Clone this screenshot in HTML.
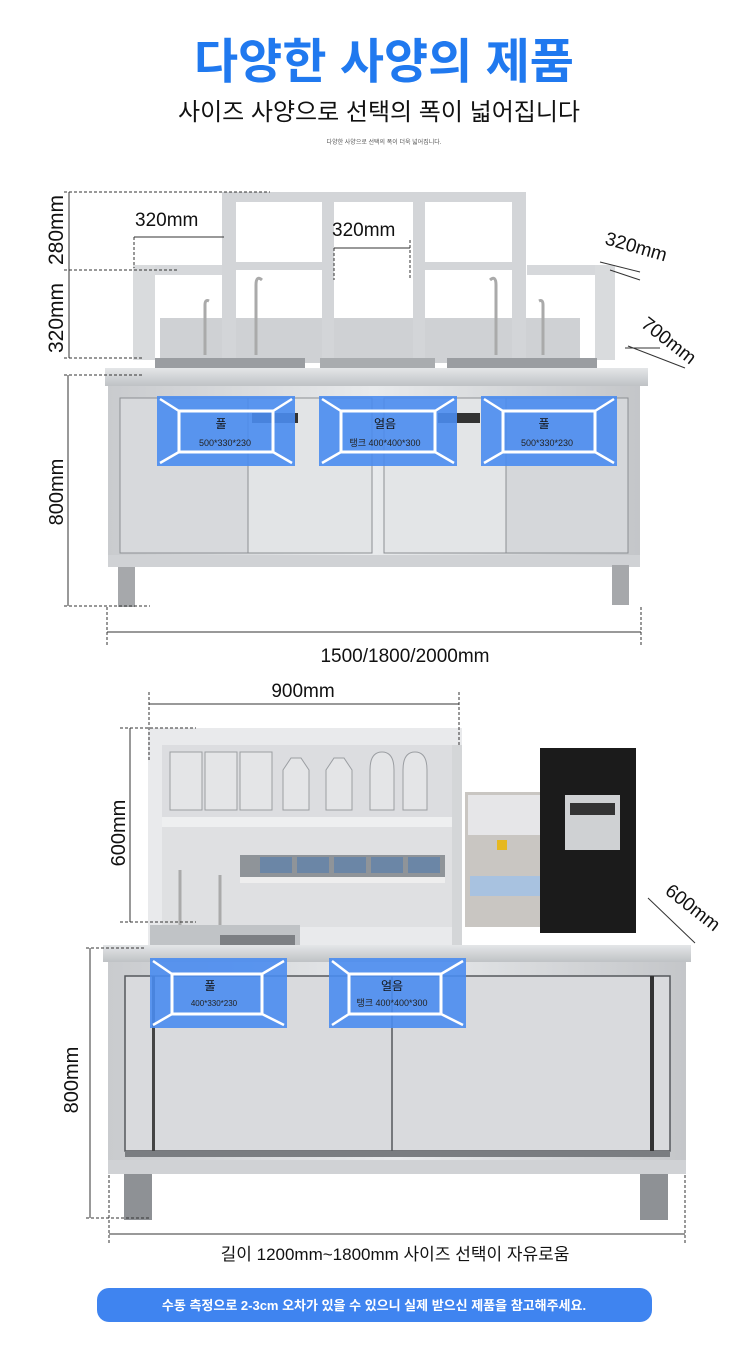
<!DOCTYPE html>
<html><head><meta charset="utf-8"><style>
html,body{margin:0;padding:0;background:#fff;}
svg{display:block;}
text{font-family:"Liberation Sans","Noto Sans CJK KR",sans-serif;}
</style></head><body>
<svg width="750" height="1354" viewBox="0 0 750 1354" xmlns="http://www.w3.org/2000/svg">
<defs>
<linearGradient id="steel" x1="0" x2="1" y1="0" y2="0">
<stop offset="0" stop-color="#c9cbce"/><stop offset="0.5" stop-color="#e8eaec"/><stop offset="1" stop-color="#c4c6c9"/>
</linearGradient>
<linearGradient id="top" x1="0" x2="0" y1="0" y2="1">
<stop offset="0" stop-color="#e4e6e8"/><stop offset="1" stop-color="#bfc2c5"/>
</linearGradient>
</defs>
<text x="384" y="78" font-size="48" font-weight="bold" fill="#2079ef" text-anchor="middle">다양한 사양의 제품</text>
<text x="379" y="120" font-size="24" fill="#111" text-anchor="middle">사이즈 사양으로 선택의 폭이 넓어집니다</text>
<text x="384" y="144" font-size="6" fill="#555" text-anchor="middle">다양한 사양으로 선택의 폭이 더욱 넓어집니다.</text>

<g>
<rect x="160" y="318" width="420" height="45" fill="#cfd1d4"/>
<rect x="133" y="265" width="90" height="10" fill="#d6d8db"/>
<rect x="133" y="265" width="22" height="95" fill="#d9dbdd"/>
<rect x="527" y="265" width="88" height="10" fill="#d6d8db"/>
<rect x="595" y="265" width="20" height="95" fill="#d9dbdd"/>
<rect x="222" y="192" width="304" height="10" fill="#d3d5d8"/>
<rect x="222" y="192" width="14" height="168" fill="#d3d5d8"/>
<rect x="322" y="192" width="12" height="168" fill="#d3d5d8"/>
<rect x="413" y="192" width="12" height="168" fill="#d3d5d8"/>
<rect x="512" y="192" width="14" height="168" fill="#d3d5d8"/>
<rect x="236" y="262" width="86" height="8" fill="#d3d5d8"/>
<rect x="425" y="262" width="87" height="8" fill="#d3d5d8"/>
<path d="M205 355 V305 q0 -6 4 -4" stroke="#aaa" stroke-width="3" fill="none"/>
<path d="M256 355 V285 q0 -10 6 -5" stroke="#aaa" stroke-width="3" fill="none"/>
<path d="M496 355 V285 q0 -10 -6 -5" stroke="#aaa" stroke-width="3" fill="none"/>
<path d="M543 355 V305 q0 -6 -4 -4" stroke="#aaa" stroke-width="3" fill="none"/>
<rect x="155" y="358" width="150" height="12" fill="#9a9da1"/>
<rect x="320" y="358" width="115" height="10" fill="#a9acaf"/>
<rect x="447" y="358" width="150" height="12" fill="#9a9da1"/>
<rect x="105" y="368" width="543" height="18" fill="url(#top)"/>
<rect x="108" y="386" width="532" height="174" fill="url(#steel)"/>
<rect x="120" y="398" width="128" height="155" fill="#d7d9dc" stroke="#8c8f93" stroke-width="1"/>
<rect x="248" y="398" width="124" height="155" fill="#e2e4e6" stroke="#8c8f93" stroke-width="1"/>
<rect x="384" y="398" width="122" height="155" fill="#e3e5e7" stroke="#8c8f93" stroke-width="1"/>
<rect x="506" y="398" width="122" height="155" fill="#d5d7da" stroke="#8c8f93" stroke-width="1"/>
<rect x="252" y="413" width="46" height="10" fill="#333"/>
<rect x="438" y="413" width="42" height="10" fill="#333"/>
<rect x="108" y="555" width="532" height="12" fill="#d0d2d5"/>
<rect x="118" y="567" width="17" height="40" fill="#a6a8ab"/>
<rect x="612" y="565" width="17" height="40" fill="#a6a8ab"/>
</g>
<g stroke="#333" stroke-width="1" fill="none">
<line x1="69" y1="192" x2="69" y2="358"/>
<line x1="68" y1="375" x2="68" y2="606"/>
<line x1="64" y1="192" x2="270" y2="192" stroke-dasharray="3,2"/>
<line x1="64" y1="270" x2="178" y2="270" stroke-dasharray="3,2"/>
<line x1="64" y1="358" x2="142" y2="358" stroke-dasharray="3,2"/>
<line x1="64" y1="375" x2="142" y2="375" stroke-dasharray="3,2"/>
<line x1="64" y1="606" x2="150" y2="606" stroke-dasharray="3,2"/>
<line x1="134" y1="237" x2="224" y2="237"/>
<line x1="134" y1="237" x2="134" y2="268" stroke-dasharray="3,2"/>
<line x1="334" y1="248" x2="410" y2="248"/>
<line x1="334" y1="248" x2="334" y2="280" stroke-dasharray="3,2"/>
<line x1="410" y1="240" x2="410" y2="280" stroke-dasharray="3,2"/>
<line x1="600" y1="262" x2="640" y2="272"/>
<line x1="610" y1="270" x2="640" y2="280"/>
<line x1="628" y1="346" x2="685" y2="368"/>
<line x1="625" y1="348" x2="660" y2="348"/>
<line x1="107" y1="607" x2="107" y2="645" stroke-dasharray="3,2"/>
<line x1="641" y1="607" x2="641" y2="645" stroke-dasharray="3,2"/>
<line x1="107" y1="632" x2="641" y2="632"/>
</g>
<g font-size="19" fill="#111">
<text x="135" y="226">320mm</text>
<text x="332" y="236">320mm</text>
<text transform="translate(604,244) rotate(16)">320mm</text>
<text transform="translate(640,326) rotate(38)">700mm</text>
<text transform="translate(63,230) rotate(-90)" text-anchor="middle" font-size="21">280mm</text>
<text transform="translate(63,318) rotate(-90)" text-anchor="middle" font-size="21">320mm</text>
<text transform="translate(63,492) rotate(-90)" text-anchor="middle" font-size="20">800mm</text>
<text x="405" y="662" text-anchor="middle">1500/1800/2000mm</text>
</g>
<g>
<g transform="translate(157,396)">
<rect width="138" height="70" fill="#4a8cf0" fill-opacity="0.9"/>
<rect x="22" y="15" width="94" height="41" fill="none" stroke="#fff" stroke-width="3"/>
<g stroke="#fff" stroke-width="2.5"><line x1="3" y1="3" x2="22" y2="15"/><line x1="135" y1="3" x2="116" y2="15"/><line x1="3" y1="67" x2="22" y2="56"/><line x1="135" y1="67" x2="116" y2="56"/></g>
<text x="64" y="32" font-size="12" text-anchor="middle" fill="#111">풀</text>
<text x="68" y="50" font-size="9" text-anchor="middle" fill="#222">500*330*230</text>
</g>
<g transform="translate(319,396)">
<rect width="138" height="70" fill="#4a8cf0" fill-opacity="0.9"/>
<rect x="22" y="15" width="94" height="41" fill="none" stroke="#fff" stroke-width="3"/>
<g stroke="#fff" stroke-width="2.5"><line x1="3" y1="3" x2="22" y2="15"/><line x1="135" y1="3" x2="116" y2="15"/><line x1="3" y1="67" x2="22" y2="56"/><line x1="135" y1="67" x2="116" y2="56"/></g>
<text x="66" y="32" font-size="12" text-anchor="middle" fill="#111">얼음</text>
<text x="66" y="50" font-size="9" text-anchor="middle" fill="#222">탱크 400*400*300</text>
</g>
<g transform="translate(481,396)">
<rect width="136" height="70" fill="#4a8cf0" fill-opacity="0.9"/>
<rect x="22" y="15" width="92" height="41" fill="none" stroke="#fff" stroke-width="3"/>
<g stroke="#fff" stroke-width="2.5"><line x1="3" y1="3" x2="22" y2="15"/><line x1="133" y1="3" x2="114" y2="15"/><line x1="3" y1="67" x2="22" y2="56"/><line x1="133" y1="67" x2="114" y2="56"/></g>
<text x="63" y="32" font-size="12" text-anchor="middle" fill="#111">풀</text>
<text x="66" y="50" font-size="9" text-anchor="middle" fill="#222">500*330*230</text>
</g>
</g>

<g>
<rect x="148" y="728" width="314" height="220" fill="#e9eaec"/>
<rect x="162" y="745" width="290" height="72" fill="#dcdde0"/>
<rect x="162" y="817" width="290" height="10" fill="#eeeff0"/>
<rect x="162" y="827" width="290" height="100" fill="#dfe0e2"/>
<rect x="452" y="745" width="10" height="200" fill="#d4d6d8"/>
<g fill="#e4e5e7" stroke="#9b9ea2" stroke-width="1">
<rect x="170" y="752" width="32" height="58"/><rect x="205" y="752" width="32" height="58"/><rect x="240" y="752" width="32" height="58"/>
<path d="M283 810 V770 l8 -12 h10 l8 12 V810 Z"/><path d="M326 810 V770 l8 -12 h10 l8 12 V810 Z"/>
<path d="M370 810 V770 q0 -18 12 -18 q12 0 12 18 V810 Z"/><path d="M403 810 V770 q0 -18 12 -18 q12 0 12 18 V810 Z"/>
</g>
<rect x="240" y="855" width="205" height="22" fill="#8f9499"/>
<g fill="#6b86a6"><rect x="260" y="857" width="32" height="16"/><rect x="297" y="857" width="32" height="16"/><rect x="334" y="857" width="32" height="16"/><rect x="371" y="857" width="32" height="16"/><rect x="408" y="857" width="32" height="16"/></g>
<rect x="240" y="877" width="205" height="6" fill="#eee"/>
<path d="M180 935 V870" stroke="#aaa" stroke-width="3"/>
<path d="M220 935 V875" stroke="#aaa" stroke-width="3"/>
<rect x="465" y="792" width="80" height="135" fill="#c9c6c2"/>
<rect x="468" y="795" width="74" height="40" fill="#e6e6e8"/>
<rect x="497" y="840" width="10" height="10" fill="#e6b820"/>
<rect x="470" y="876" width="70" height="20" fill="#a8c2e0"/>
<rect x="540" y="748" width="96" height="185" fill="#1b1b1b"/>
<rect x="565" y="795" width="55" height="55" fill="#cfd1d3"/>
<rect x="570" y="803" width="45" height="12" fill="#333"/>
<rect x="150" y="925" width="150" height="22" fill="#c0c3c6"/>
<rect x="220" y="935" width="75" height="12" fill="#7d8084"/>
<rect x="103" y="945" width="588" height="17" fill="url(#top)"/>
<rect x="108" y="962" width="578" height="212" fill="url(#steel)"/>
<rect x="125" y="976" width="545" height="175" fill="#d9dadd" stroke="#55585c" stroke-width="1.5"/>
<line x1="392" y1="976" x2="392" y2="1151" stroke="#55585c" stroke-width="1.5"/>
<rect x="152" y="976" width="3" height="175" fill="#444"/>
<rect x="650" y="976" width="4" height="175" fill="#333"/>
<rect x="125" y="1151" width="545" height="6" fill="#7a7d81"/>
<rect x="108" y="1160" width="578" height="14" fill="#d0d2d5"/>
<rect x="124" y="1174" width="28" height="46" fill="#8e9195"/>
<rect x="640" y="1174" width="28" height="46" fill="#8e9195"/>
</g>
<g stroke="#333" stroke-width="1" fill="none">
<line x1="149" y1="692" x2="149" y2="760" stroke-dasharray="3,2"/>
<line x1="459" y1="692" x2="459" y2="745" stroke-dasharray="3,2"/>
<line x1="149" y1="704" x2="459" y2="704"/>
<line x1="130" y1="728" x2="130" y2="922"/>
<line x1="120" y1="728" x2="196" y2="728" stroke-dasharray="3,2"/>
<line x1="120" y1="922" x2="196" y2="922" stroke-dasharray="3,2"/>
<line x1="90" y1="948" x2="90" y2="1218"/>
<line x1="86" y1="948" x2="145" y2="948" stroke-dasharray="3,2"/>
<line x1="86" y1="1218" x2="150" y2="1218" stroke-dasharray="3,2"/>
<line x1="109" y1="1175" x2="109" y2="1245" stroke-dasharray="3,2"/>
<line x1="685" y1="1175" x2="685" y2="1245" stroke-dasharray="3,2"/>
<line x1="109" y1="1234" x2="685" y2="1234"/>
<line x1="648" y1="898" x2="695" y2="943"/>
</g>
<g font-size="19" fill="#111">
<text x="303" y="697" text-anchor="middle">900mm</text>
<text transform="translate(125,833) rotate(-90)" text-anchor="middle" font-size="20">600mm</text>
<text transform="translate(78,1080) rotate(-90)" text-anchor="middle" font-size="20">800mm</text>
<text transform="translate(664,893) rotate(38)">600mm</text>
<text x="395" y="1260" font-size="17" text-anchor="middle">길이 1200mm~1800mm 사이즈 선택이 자유로움</text>
</g>
<g transform="translate(150,958)">
<rect width="137" height="70" fill="#4a8cf0" fill-opacity="0.9"/>
<rect x="22" y="16" width="90" height="40" fill="none" stroke="#fff" stroke-width="3"/>
<g stroke="#fff" stroke-width="2.5"><line x1="3" y1="3" x2="22" y2="16"/><line x1="134" y1="3" x2="112" y2="16"/><line x1="3" y1="67" x2="22" y2="56"/><line x1="134" y1="67" x2="112" y2="56"/></g>
<text x="60" y="32" font-size="12" text-anchor="middle" fill="#111">풀</text>
<text x="64" y="48" font-size="8" text-anchor="middle" fill="#222">400*330*230</text>
</g>
<g transform="translate(329,958)">
<rect width="137" height="70" fill="#4a8cf0" fill-opacity="0.9"/>
<rect x="20" y="16" width="92" height="40" fill="none" stroke="#fff" stroke-width="3"/>
<g stroke="#fff" stroke-width="2.5"><line x1="3" y1="3" x2="20" y2="16"/><line x1="134" y1="3" x2="112" y2="16"/><line x1="3" y1="67" x2="20" y2="56"/><line x1="134" y1="67" x2="112" y2="56"/></g>
<text x="63" y="32" font-size="12" text-anchor="middle" fill="#111">얼음</text>
<text x="63" y="48" font-size="9" text-anchor="middle" fill="#222">탱크 400*400*300</text>
</g>

<rect x="97" y="1288" width="555" height="34" rx="12" fill="#3f84f0"/>
<text x="374" y="1310" font-size="13" font-weight="bold" fill="#fff" text-anchor="middle">수동 측정으로 2-3cm 오차가 있을 수 있으니 실제 받으신 제품을 참고해주세요.</text>
</svg>
</body></html>
